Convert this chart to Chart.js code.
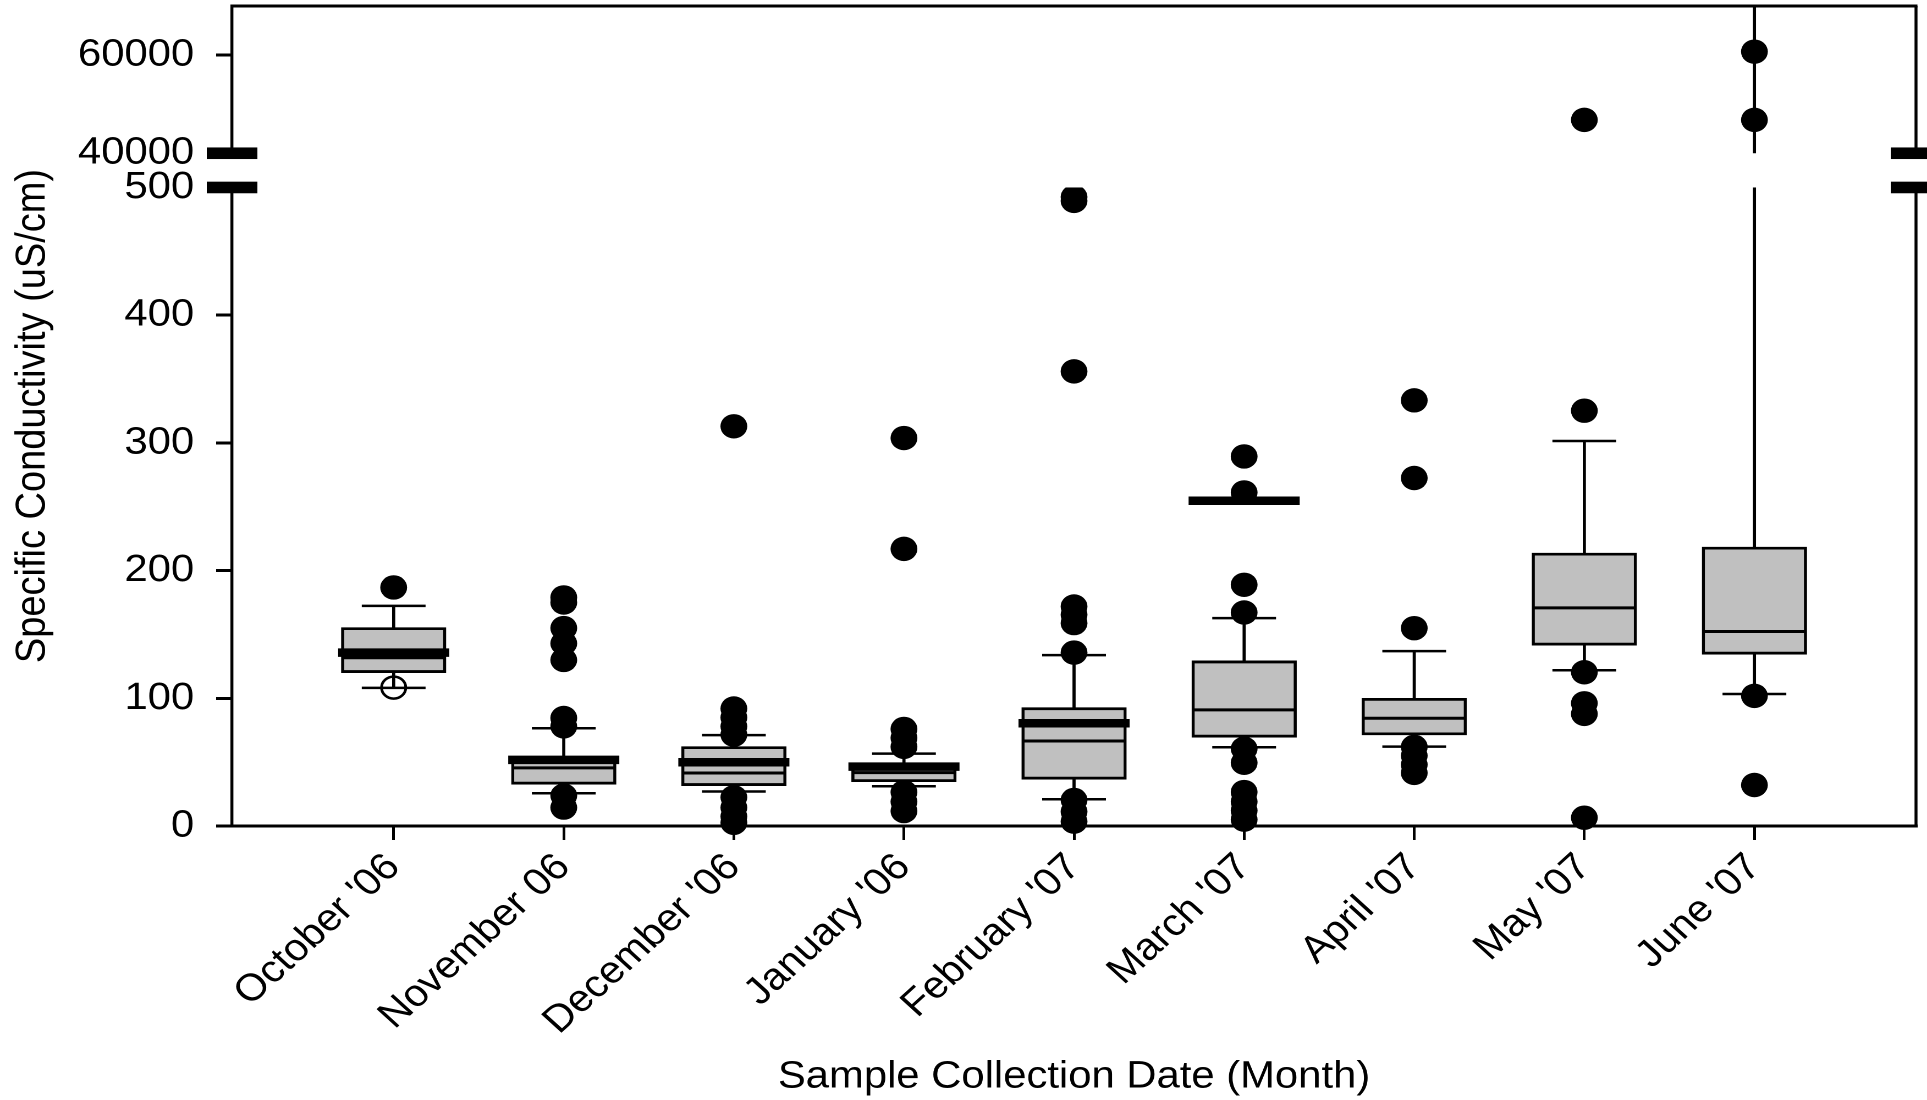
<!DOCTYPE html>
<html>
<head>
<meta charset="utf-8">
<script src="https://cdn.jsdelivr.net/npm/chart.js@4.4.1/dist/chart.umd.min.js"></script>
<style>
  html, body { margin: 0; padding: 0; background: #fff; overflow: hidden; }
  #wrap { width: 1752px; height: 1100px; transform: scaleX(1.09989); transform-origin: 0 0; }
</style>
</head>
<body>
<div id="wrap"><canvas id="c" width="1752" height="1100"></canvas></div>
<script>
// ---------- data ----------
const categories = ["October '06", "November 06", "December '06", "January '06", "February '07", "March '07", "April '07", "May '07", "June '07"];
const boxLow      = [120.1, 32.7, 31.6, 34.7, 36.6, 69.5, 71.3, 141.6, 134.5];
const boxHigh     = [155.4, 53.0, 62.2, 49.0, 92.7, 129.3, 100.0, 213.7, 218.4];
const medians     = [131.7, 45.5, 41.5, 41.8, 66.6, 90.9, 84.4, 170.8, 152.3];
const means       = [135.8, 51.8, 49.9, 46.5, 80.5, 254.7, null, null, null];
const whiskerLow  = [108.2, 25.6, 27.0, 31.1, 20.9, 61.7, 62.2, 122.0, 103.4];
const whiskerHigh = [172.4, 76.5, 71.2, 56.7, 133.8, 162.8, 136.9, 301.5, 70000];
const outliers = [
  [186.8],
  [179, 175, 155, 143, 130, 84.6, 78, 23.8, 14.4],
  [313, 92, 85, 78, 71.5, 22.5, 14.5, 7.5, 2.5],
  [303.8, 217, 76, 69, 62, 26.5, 19, 11.7],
  [492.5, 489.5, 356, 171.9, 165.4, 158.9, 135.8, 20.4, 11.2, 3.4],
  [289.4, 261.2, 188.9, 167.2, 60.5, 49.5, 26.6, 19, 12, 5],
  [333.3, 272.5, 154.9, 62, 55, 48, 41.6],
  [46800, 325.2, 120.4, 96.1, 87.8, 6.5],
  [60700, 46800, 101.9, 32.1]
];
const openOutliers = [[108.4], [], [], [], [], [], [], [], []];
const yTickValues = [0, 100, 200, 300, 400, 500, 40000, 60000];
const yTickLabels = ["0", "100", "200", "300", "400", "500", "40000", "60000"];
const yTitle = "Specific Conductivity (uS/cm)";
const xTitle = "Sample Collection Date (Month)";

// ---------- broken axis mapping ----------
const LOW_MAX = 500, HIGH_MIN = 40000, HIGH_MAX = 70000, GAP_UNITS = 26.8, HIGH_UNITS = 115.3;
function toAxis(v) {
  if (v == null) return null;
  return v <= LOW_MAX ? v : LOW_MAX + GAP_UNITS + (v - HIGH_MIN) / (HIGH_MAX - HIGH_MIN) * HIGH_UNITS;
}
const AXIS_MAX = toAxis(HIGH_MAX);

const idx = categories.map((_, i) => i + 1);
const pts = (arr) => arr.map((v, i) => ({ x: i + 1, y: toAxis(v) })).filter(p => p.y != null);
const flat = (lists) => lists.flatMap((l, i) => l.map(v => ({ x: i + 1, y: toAxis(v) })));

const FONT = "'Liberation Sans', Arial, Helvetica, sans-serif";

const breakPlugin = {
  id: 'axisBreak',
  afterDraw(chart) {
    const { ctx, chartArea: a, scales: { y } } = chart;
    const yLow = y.getPixelForValue(toAxis(LOW_MAX));
    const yHigh = y.getPixelForValue(toAxis(HIGH_MIN));
    ctx.save();
    ctx.strokeStyle = '#000';
    ctx.lineWidth = 3;
    ctx.beginPath(); ctx.moveTo(a.left, a.top); ctx.lineTo(a.right + 1.3, a.top); ctx.stroke();
    ctx.lineWidth = 2.7;
    ctx.beginPath(); ctx.moveTo(a.right, a.top); ctx.lineTo(a.right, a.bottom); ctx.stroke();
    ctx.fillStyle = '#fff';
    ctx.fillRect(a.left - 23, yHigh, a.right - a.left + 60, yLow - yHigh);
    ctx.fillStyle = '#000';
    for (const py of [yLow, yHigh]) {
      for (const px of [a.left, a.right]) ctx.fillRect(px - 23, py - 5.8, 46, 11.6);
    }
    ctx.restore();
  }
};

new Chart(document.getElementById('c'), {
  data: {
    datasets: [
      { type: 'scatter', label: 'outliers', order: 1, clip: false,
        data: flat(outliers), pointStyle: 'circle', pointRadius: 12.2,
        backgroundColor: '#000', borderWidth: 0 },
      { type: 'scatter', label: 'open', order: 2, clip: false,
        data: flat(openOutliers), pointStyle: 'circle', pointRadius: 11,
        backgroundColor: 'rgba(0,0,0,0)', borderColor: '#000', borderWidth: 2.5 },
      { type: 'scatter', label: 'caps', order: 3,
        data: pts(whiskerLow).concat(pts(whiskerHigh).filter(p => p.y < AXIS_MAX)),
        pointStyle: 'line', pointRadius: 29, borderColor: '#000', borderWidth: 2.5 },
      { type: 'scatter', label: 'mean', order: 4,
        data: pts(means), pointStyle: 'line', pointRadius: 50.5, borderColor: '#000', borderWidth: 8.5 },
      { type: 'scatter', label: 'median', order: 5,
        data: pts(medians), pointStyle: 'line', pointRadius: 46, borderColor: '#000', borderWidth: 3 },
      { type: 'bar', label: 'box', order: 6, grouped: false,
        data: idx.map((x, i) => ({ x, y: [toAxis(boxLow[i]), toAxis(boxHigh[i])] })),
        barThickness: 95, backgroundColor: '#c0c0c0', borderColor: '#000', borderWidth: 2.8, borderSkipped: false },
      { type: 'bar', label: 'whisker', order: 7, grouped: false,
        data: idx.map((x, i) => ({ x, y: [toAxis(whiskerLow[i]), toAxis(whiskerHigh[i])] })),
        barThickness: 2.2, backgroundColor: '#000', borderWidth: 0 }
    ]
  },
  options: {
    responsive: false,
    animation: false,
    devicePixelRatio: 2,
    events: [],
    layout: { autoPadding: false, padding: { top: 6, right: 10, bottom: 0, left: 0 } },
    plugins: { legend: { display: false }, tooltip: { enabled: false } },
    scales: {
      x: {
        type: 'linear', position: 'bottom', min: 0.05, max: 9.95, offset: false,
        afterBuildTicks: (s) => { s.ticks = idx.map(v => ({ value: v })); },
        afterFit: (s) => { s.height = 274; s.paddingLeft = 0; s.paddingRight = 0; },
        ticks: {
          autoSkip: false, minRotation: 45, maxRotation: 45, padding: 5, color: '#000',
          font: { family: FONT, size: 38 },
          callback: (v) => categories[Math.round(v) - 1]
        },
        grid: { offset: false, drawOnChartArea: false, drawTicks: true, tickLength: 14, lineWidth: 2.5, color: '#000' },
        border: { display: true, color: '#000', width: 3 },
        title: { display: true, text: xTitle, color: '#000', font: { family: FONT, size: 38 }, padding: { top: 0, bottom: 0 } }
      },
      y: {
        type: 'linear', position: 'left', min: 0, max: AXIS_MAX,
        afterBuildTicks: (s) => { s.ticks = yTickValues.map(v => ({ value: toAxis(v) })); },
        afterFit: (s) => { s.width = 211; s.paddingTop = 0; s.paddingBottom = 0; },
        ticks: {
          padding: 20, color: '#000', font: { family: FONT, size: 38 },
          callback: (v, i) => yTickLabels[i]
        },
        grid: { drawOnChartArea: false, drawTicks: true, tickLength: 14.5, lineWidth: 3, color: '#000' },
        border: { display: true, color: '#000', width: 2.7 },
        title: { display: true, text: yTitle, color: '#000', font: { family: FONT, size: 38 }, padding: { top: 7, bottom: 0 } }
      }
    }
  },
  plugins: [breakPlugin]
});
</script>
</body>
</html>
